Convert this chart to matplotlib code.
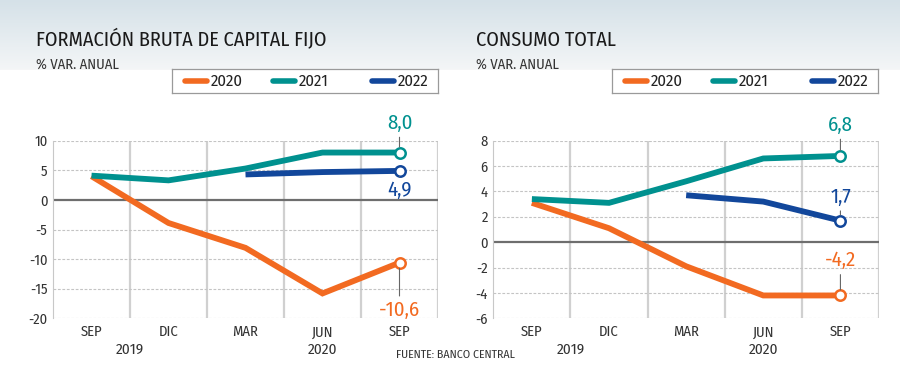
import numpy as np
import matplotlib
matplotlib.use("Agg")
import matplotlib.pyplot as plt
from matplotlib import font_manager as fm
from matplotlib.lines import Line2D
from matplotlib.patches import Rectangle

# ---------------- data ----------------
quarters = ["SEP", "DIC", "MAR", "JUN", "SEP"]
years_lbl = ["2019", "2020"]
series_names = ["2020", "2021", "2022"]

fbcf_2020 = [4.0, -3.9, -8.1, -15.8, -10.6]
fbcf_2021 = [4.1, 3.3, 5.3, 8.0, 8.0]
fbcf_2022 = [None, None, 4.3, 4.7, 4.9]

cons_2020 = [3.1, 1.1, -1.9, -4.2, -4.2]
cons_2021 = [3.4, 3.1, 4.8, 6.6, 6.8]
cons_2022 = [None, None, 3.7, 3.2, 1.7]

fbcf_yticks = [-20, -15, -10, -5, 0, 5, 10]
cons_yticks = [-6, -4, -2, 0, 2, 4, 6, 8]

titles = ["FORMACIÓN BRUTA DE CAPITAL FIJO", "CONSUMO TOTAL"]
subtitle = "% VAR. ANUAL"
source = "FUENTE: BANCO CENTRAL"

colors = ["#f26a21", "#00918f", "#12479b"]

# ---------------- fonts ----------------
names = {f.name for f in fm.fontManager.ttflist}
FONT = "Fira Sans Condensed" if "Fira Sans Condensed" in names else "Roboto"
plt.rcParams["font.family"] = [FONT, "DejaVu Sans"]

W, H = 900, 385
fig = plt.figure(figsize=(W / 100, H / 100), dpi=100)

# background gradient at the top
bg = fig.add_axes([0, 0, 1, 1], zorder=-10)
bg.set_axis_off()
grad_h = 70
g = np.linspace(0, 1, 200)[:, None]
top = np.array([213, 225, 232]) / 255
bot = np.array([244, 246, 247]) / 255
img = top[None, None, :] * (1 - g[..., None]) + bot[None, None, :] * g[..., None]
img = np.repeat(img, 2, axis=1)
bg.imshow(img, extent=[0, W, grad_h, 0], aspect="auto", interpolation="bilinear")
bg.add_patch(Rectangle((0, grad_h), W, H - grad_h, color="white"))
bg.set_xlim(0, W)
bg.set_ylim(H, 0)


def px_axes(x0, y0, x1, y1, **kw):
    return fig.add_axes([x0 / W, 1 - y1 / H, (x1 - x0) / W, (y1 - y0) / H], **kw)


def panel(x0, x1, data, yticks, title, labels, leg_x0):
    ax = px_axes(x0, 140.7, x1, 318.3)
    ax.set_facecolor("none")
    x = np.arange(len(quarters))
    ax.set_xlim(-0.5, len(quarters) - 0.5)
    ax.set_ylim(yticks[0], yticks[-1])
    for s in ["top", "bottom", "right"]:
        ax.spines[s].set_visible(False)
    ax.spines["left"].set_color("#c8c8c8")
    ax.spines["left"].set_linewidth(0.8)
    for yt in yticks:
        if yt == 0:
            ax.axhline(0, color="#6e6e6e", lw=1.6, zorder=1)
        else:
            ax.axhline(yt, color="#c4c4c4", lw=0.8, ls=(0, (2.5, 1.5)), zorder=1)
    for xb in np.arange(0.5, len(quarters), 1.0):
        ax.axvline(xb, color="#d0d0d0", lw=1.6, zorder=0.5)
    ax.set_yticks(yticks)
    ax.set_yticklabels([str(v) for v in yticks])
    ax.set_xticks(x)
    ax.set_xticklabels(quarters)
    ax.tick_params(length=0, labelsize=10.5, colors="#333333")
    ax.tick_params(axis="x", pad=5)
    ax.tick_params(axis="y", pad=4)

    for vals, c in zip(data, colors):
        xs = [xi for xi, v in zip(x, vals) if v is not None]
        ys = [v for v in vals if v is not None]
        ax.plot(xs, ys, color=c, lw=4.2, solid_capstyle="butt",
                solid_joinstyle="miter", zorder=3)
        ax.plot(xs[-1], ys[-1], "o", ms=7.5, mfc="white", mec=c, mew=1.8,
                zorder=4, clip_on=False)

    for off, vals, c in zip(labels, data, colors):
        v = vals[-1]
        txt = f"{v:.1f}".replace(".", ",")
        ax.annotate(txt, xy=(x[-1], v), xytext=(0, off), textcoords="offset points",
                    ha="center", va="center", fontsize=15, color=c,
                    annotation_clip=False, zorder=5,
                    arrowprops=dict(arrowstyle="-", color="#666666", lw=0.8,
                                    patchA=None, shrinkA=10, shrinkB=4))

    trans = ax.get_xaxis_transform()
    ax.text(0.5, -0.18, years_lbl[0], transform=trans, ha="center", va="center",
            fontsize=11, color="#333333")
    ax.text(3.0, -0.18, years_lbl[1], transform=trans, ha="center", va="center",
            fontsize=11, color="#333333")

    fig.text((x0 - 17.5) / W, 1 - 40 / H, title, ha="left", va="center",
             fontsize=14.5, color="#1a1a1a", fontweight="normal")
    fig.text((x0 - 17.5) / W, 1 - 65 / H, subtitle, ha="left", va="center",
             fontsize=10.5, color="#333333")

    # legend box
    lg = px_axes(leg_x0, 69, leg_x0 + 266, 93)
    lg.set_xlim(0, 266)
    lg.set_ylim(24, 0)
    lg.set_xticks([])
    lg.set_yticks([])
    lg.set_facecolor("white")
    for s in lg.spines.values():
        s.set_color("#9a9a9a")
        s.set_linewidth(0.9)
    starts = [11, 99, 198]
    for sx, c, name in zip(starts, colors, series_names):
        lg.add_line(Line2D([sx + 2, sx + 24], [12, 12], color=c, lw=4,
                           solid_capstyle="round"))
        lg.text(sx + 28, 12.5, name, ha="left", va="center", fontsize=12,
                color="#222222")
    return ax


# label offsets (points) from the last marker
ax1 = panel(53, 438, [fbcf_2020, fbcf_2021, fbcf_2022], fbcf_yticks, titles[0],
            [-34, 21, -14], 172)
ax2 = panel(493.3, 879, [cons_2020, cons_2021, cons_2022], cons_yticks, titles[1],
            [25, 22, 17], 612)

fig.text(455 / W, 1 - 355 / H, source, ha="center", va="center", fontsize=8.5,
         color="#333333")

fig.savefig("out.png", dpi=100)
